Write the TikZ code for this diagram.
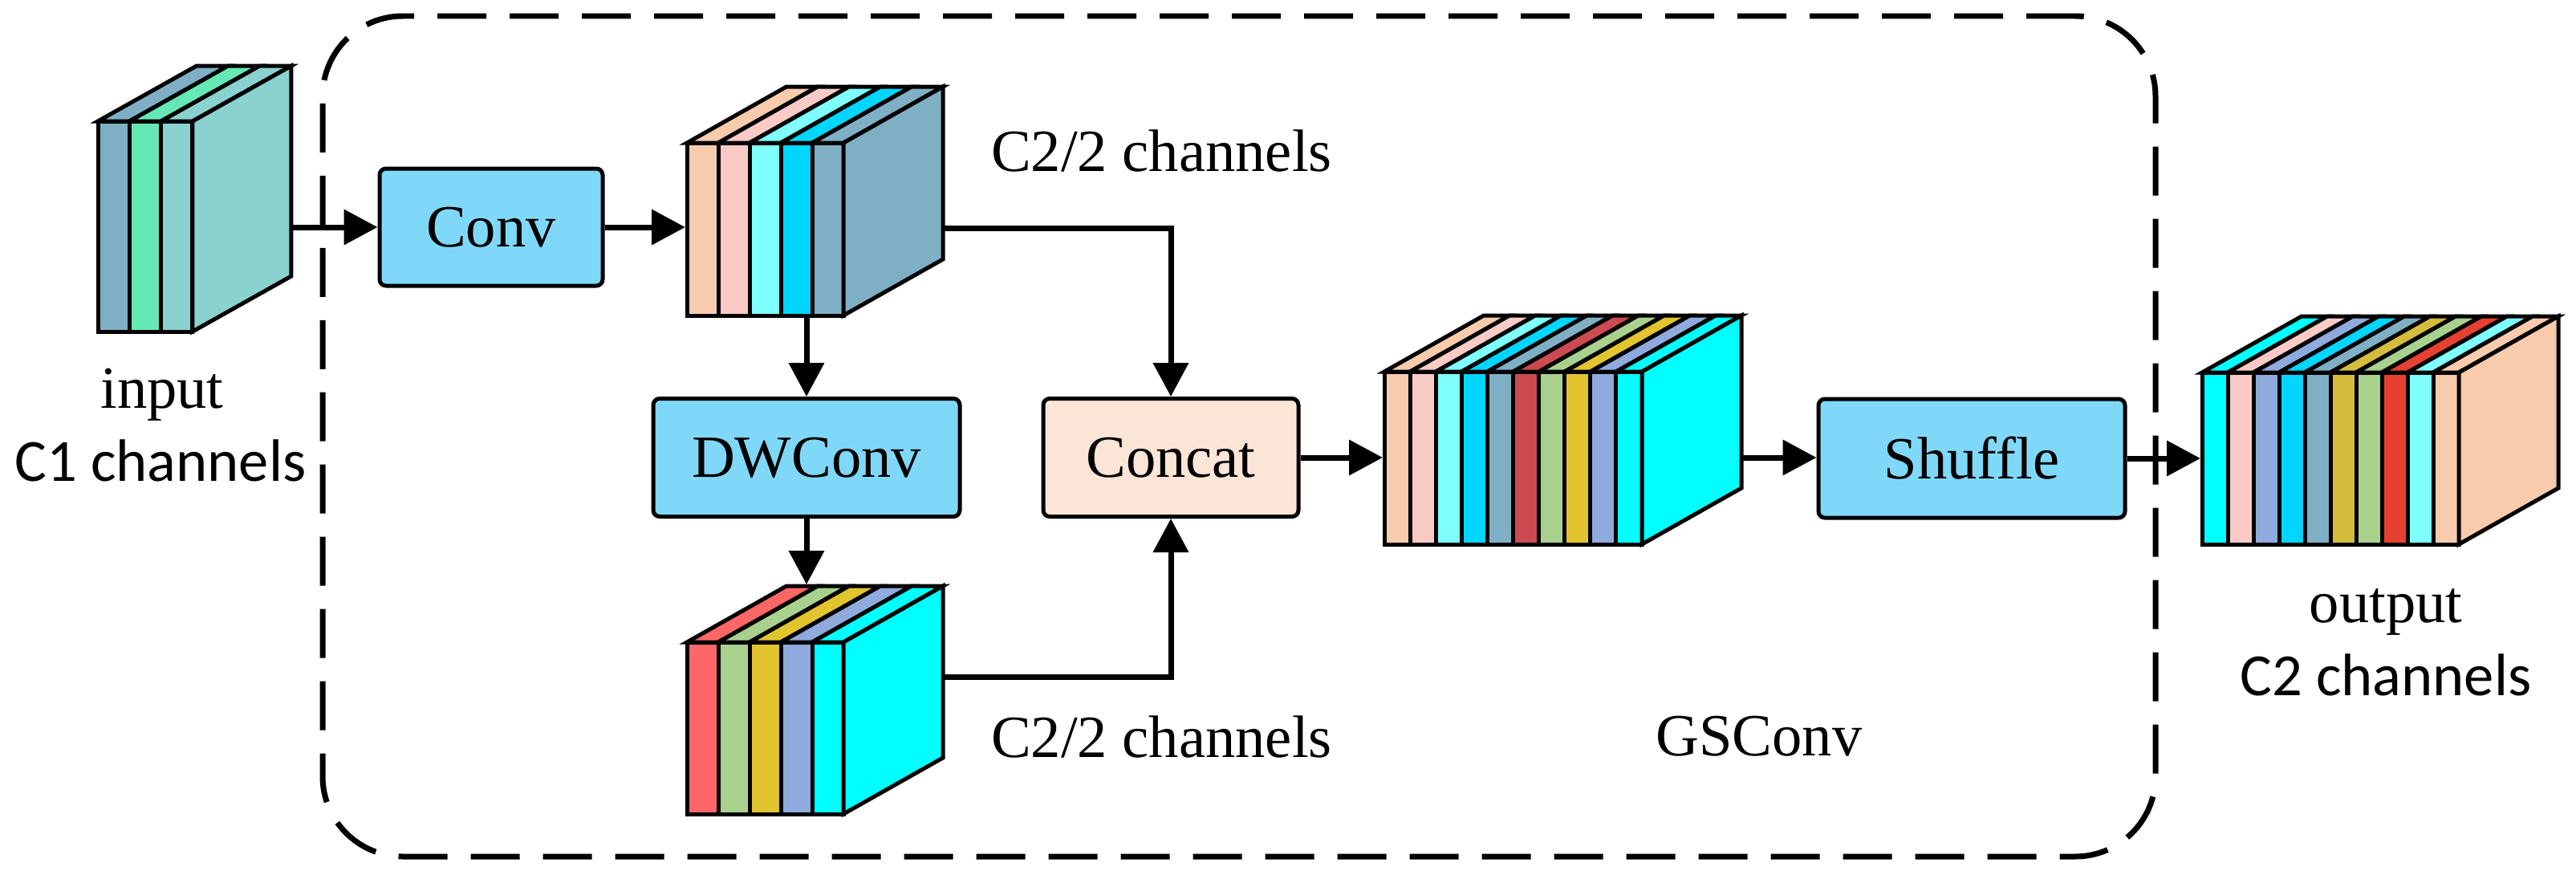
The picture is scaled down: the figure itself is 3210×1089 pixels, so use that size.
\documentclass[tikz,border=0pt]{standalone}
\usepackage{fontspec}
\setmainfont{Liberation Serif}
\newfontfamily\sansC{Carlito}
\usetikzlibrary{arrows.meta,fit}
\definecolor{cbox}{HTML}{80D8F8}
\definecolor{cconcat}{HTML}{FBE5D6}
\definecolor{peach}{HTML}{F8CBAD}
\definecolor{pinkc}{HTML}{F9CAC6}
\definecolor{lcyan}{HTML}{80FFFF}
\definecolor{bcyan}{HTML}{00D6FF}
\definecolor{steel}{HTML}{7FAFC5}
\definecolor{igreen}{HTML}{66E8B4}
\definecolor{iteal}{HTML}{8AD2D0}
\definecolor{redc}{HTML}{FF6666}
\definecolor{greenc}{HTML}{A9D18E}
\definecolor{yellowc}{HTML}{E2C42E}
\definecolor{lav}{HTML}{8FAADC}
\definecolor{cyanc}{HTML}{00FFFF}
\definecolor{dred}{HTML}{CC4A50}
\definecolor{dyellow}{HTML}{D5BC3D}
\definecolor{ored}{HTML}{E64130}
\newcommand\fs{\fontsize{7.46}{9}\selectfont}
\def\bdx{124}
\def\bdy{70}
% x0, top, bottom, bar width, number of bars, colours, side colour
\newcommand\chblock[7]{%
  \foreach \cc [count=\ii from 0] in {#6}{%
    \pgfmathsetmacro\xa{#1+\ii*#4}%
    \pgfmathsetmacro\xb{#1+(\ii+1)*#4}%
    \filldraw[fill=\cc, blk] (\xa,#2) rectangle (\xb,#3);
    \filldraw[fill=\cc, blk] (\xa,#2) -- (\xb,#2) -- (\xb+\bdx,#2-\bdy) -- (\xa+\bdx,#2-\bdy) -- cycle;
  }%
  \pgfmathsetmacro\xn{#1+#5*#4}%
  \filldraw[fill=#7, blk] (\xn,#2) -- (\xn+\bdx,#2-\bdy) -- (\xn+\bdx,#3-\bdy) -- (\xn,#3) -- cycle;
}
\begin{document}
\begin{tikzpicture}[x=0.1pt,y=-0.1pt,
  blk/.style={draw=black, line width=0.5pt, line join=miter},
  box/.style={draw=black, line width=0.5pt, rounded corners=0.8pt, inner sep=0pt, font=\fs},
  arr/.style={line width=0.7pt, -{Triangle[length=4.2pt,width=4.3pt]}},
  lbl/.style={inner sep=0pt, font=\fs},
  ghost/.style={inner sep=0pt, draw=none},
  gsborder/.style={draw=black, line width=0.7pt, dash pattern=on 6.1pt off 2.9pt, rounded corners=10pt}]
\useasboundingbox (0,0) rectangle (3210,1089);

% GSConv frame
\node[gsborder, ghost, draw=black, fit={(402,20) (2686,1067)}] (gs) {};

% input block
\def\bdx{123}\def\bdy{69}
\chblock{122}{151}{413}{39.33}{3}{steel,igreen,iteal}{iteal}
\node[ghost, fit={(122,151) (240,413)}] (inf) {};
\coordinate (inr) at (363,283);
\node[lbl, anchor=base] (intxt) at (202,508) {input};
\node[lbl, anchor=base, font=\fs\sansC] (c1txt) at (200,599) {C1 channels};

\def\bdx{124}\def\bdy{70}
% block 2 (C2/2 after Conv)
\chblock{856}{178}{393}{39}{5}{peach,pinkc,lcyan,bcyan,steel}{steel}
\node[ghost, fit={(856,178) (1051,393)}] (b2f) {};
\coordinate (b2r) at (1175,284);

% block 3 (after DWConv)
\chblock{856}{800}{1014}{39}{5}{redc,greenc,yellowc,lav,cyanc}{cyanc}
\node[ghost, fit={(856,800) (1051,1014)}] (b3f) {};
\node[ghost, fit={(980,730) (1175,944)}] (b3b) {};
\coordinate (b3r) at (1175,843);

% block 4 (after Concat)
\chblock{1725}{463}{678}{32.1}{10}{peach,pinkc,lcyan,bcyan,steel,dred,greenc,yellowc,lav,cyanc}{cyanc}
\node[ghost, fit={(1725,463) (2046,678)}] (b4f) {};
\coordinate (b4r) at (2170,570);

% block 5 (output)
\chblock{2744}{464}{678}{32}{10}{cyanc,pinkc,lav,bcyan,steel,dyellow,greenc,ored,lcyan,peach}{peach}
\node[ghost, fit={(2744,464) (3064,678)}] (b5f) {};

% boxes
\node[box, fill=cbox, minimum width=27.8pt, minimum height=14.6pt] (conv) at (612,283) {Conv};
\node[box, fill=cbox, minimum width=38.2pt, minimum height=14.7pt] (dw) at (1005,570) {DWConv};
\node[box, fill=cconcat, minimum width=31.8pt, minimum height=14.7pt] (cc) at (1459,570) {Concat};
\node[box, fill=cbox, minimum width=38.2pt, minimum height=14.8pt] (sh) at (2457,571) {Shuffle};

% labels
\node[lbl, anchor=base west] (c22a) at (1233,213) {C2/2 channels};
\node[lbl, anchor=base west] (c22b) at (1233,943) {C2/2 channels};
\node[lbl, anchor=base] (gstxt) at (2192,941) {GSConv};
\node[lbl, anchor=base] (outtxt) at (2973,775) {output};
\node[lbl, anchor=base, font=\fs\sansC] (c2txt) at (2973,866) {C2 channels};

% connectors
\draw[arr] (inr) -- (conv.west |- inr);
\draw[arr] (conv.east) -- (b2f.west |- conv.east);
\draw[arr] (dw.north |- b2f.south) -- (dw.north);
\draw[arr] (b2r) -| (cc.north);
\draw[arr] (dw.south) -- (dw.south |- b3b.north);
\draw[arr] (b3r) -| (cc.south);
\draw[arr] (cc.east) -- (b4f.west |- cc.east);
\draw[arr] (b4r) -- (sh.west |- b4r);
\draw[arr] (sh.east) -- (b5f.west |- sh.east);
\end{tikzpicture}
\end{document}
